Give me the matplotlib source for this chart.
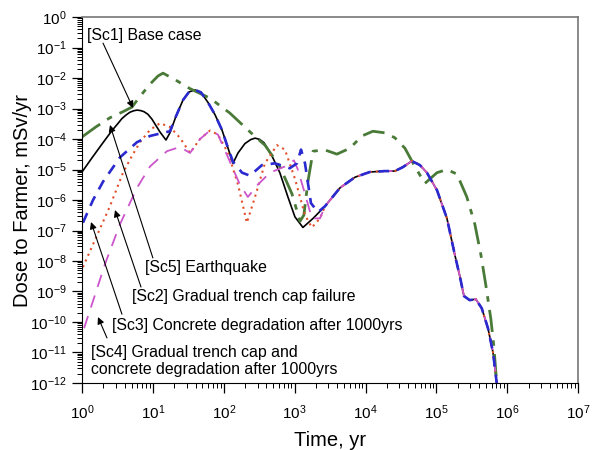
import numpy as np
import matplotlib
matplotlib.use("Agg")
from matplotlib import pyplot as plt
from matplotlib.ticker import LogLocator, NullFormatter

plt.rcParams['font.family'] = ['Liberation Sans', 'DejaVu Sans']
plt.rcParams['mathtext.fontset'] = 'custom'
plt.rcParams['mathtext.rm'] = 'Liberation Sans'
plt.rcParams['mathtext.it'] = 'Liberation Sans:italic'

# shared late-time tail (Sc1-Sc4 coincide after ~2500 yr)
tail_t = [2690, 4360, 7100, 11500, 18700, 26000, 33700, 45100, 58500, 73500,
          102000, 141000, 182000, 214000, 245000, 295000, 361000, 437000,
          534000, 630000, 710000]
tail_d = [6.3e-7, 2.5e-6, 5.6e-6, 8.3e-6, 8.9e-6, 8.9e-6, 1.2e-5, 1.9e-5, 1.4e-5, 7.9e-6,
          2.1e-6, 2.5e-7, 1.6e-8, 3.2e-9, 7.1e-10, 5.2e-10, 5.6e-10, 2.8e-10,
          6.3e-11, 1e-11, 1e-12]

# [Sc1] Base case
sc1_t = [1, 1.38, 1.91, 2.65, 3.2, 3.66, 4.2, 4.75, 5.4, 5.97, 6.7, 7.49, 8.5, 9.7,
         12.6, 15.3, 17.4, 21.2, 26.6, 32.3, 39.3, 47.7, 59.8, 75.2, 94.3, 115, 135,
         159, 199, 240, 276, 320, 369, 479, 618, 804, 1010, 1310, 1820] + tail_t
sc1_d = [8.3e-6, 2.4e-5, 6.8e-5, 1.9e-4, 3.2e-4, 4.7e-4, 6.2e-4, 7.6e-4, 8.5e-4,
         8.9e-4, 8.6e-4, 7.9e-4, 6.5e-4, 4.5e-4, 1.7e-4, 9.3e-5, 1.6e-4, 5.6e-4,
         1.9e-3, 3.5e-3, 4.1e-3, 3.4e-3, 1.6e-3, 6.3e-4, 2.0e-4, 5.0e-5, 1.6e-5,
         3.5e-5, 7.1e-5, 9.6e-5, 1.07e-4, 9.8e-5, 7.6e-5, 2.8e-5, 7.9e-6, 1.26e-6,
         2.8e-7, 1.26e-7, 2.5e-7] + tail_d

# [Sc5] Earthquake
sc5_t = [1, 1.57, 2.48, 3.79, 5.07, 6.58, 9.1, 11.8, 13.9, 20.5, 33.4, 63.8, 122,
         258, 381, 618, 916, 1190, 1350, 1540, 1820, 2670, 3950, 6030, 8890,
         12700, 18800, 26000, 36000, 49700, 68800, 102000, 141000, 195000,
         269000, 349000, 425000, 499000, 587000, 647000, 710000]
sc5_d = [1.17e-4, 2.5e-4, 5.0e-4, 7.9e-4, 1.12e-3, 2.5e-3, 6.3e-3, 1.17e-2, 1.45e-2,
         8.9e-3, 4.5e-3, 2.2e-3, 7.1e-4, 1.4e-4, 6.3e-5, 1.26e-5, 1.6e-6, 2.0e-7,
         3.2e-7, 4.0e-6, 4.0e-5, 4.4e-5, 3.2e-5, 5.0e-5, 1.26e-4, 1.8e-4, 1.6e-4,
         1.1e-4, 5.0e-5, 1.26e-5, 3.5e-6, 7.9e-6, 1.0e-5, 7.1e-6, 1.26e-6, 1.6e-7,
         1.6e-8, 1.6e-9, 1.26e-10, 1.6e-11, 1e-12]

# [Sc2] Gradual trench cap failure
sc2_t = [1.03, 1.53, 2.48, 3.79, 5.07, 6.58, 9.1, 12.6, 17.4, 24.1, 33.4, 46.2,
         63.8, 82.8, 115, 159, 212, 276, 381, 563, 730, 1010, 1400, 1750, 2280] + tail_t
sc2_d = [6.3e-9, 5.0e-8, 6.3e-7, 7.9e-6, 2.8e-5, 7.9e-5, 2.0e-4, 3.3e-4, 2.5e-4,
         1.1e-4, 3.5e-5, 1.0e-4, 1.9e-4, 1.4e-4, 3.5e-5, 3.2e-6, 1.8e-7, 1.26e-6,
         1.6e-5, 6.3e-5, 4.5e-5, 5.0e-6, 3.2e-7, 1.26e-7, 2.5e-7] + tail_d

# [Sc3] Concrete degradation after 1000yrs
sc3_t = [1.03, 1.43, 1.98, 3.43, 5.97, 9.1, 13.9, 17.4, 21.2, 26.6, 32.3, 39.3,
         47.7, 59.8, 75.2, 94.3, 115, 135, 181, 234, 346, 527, 854, 1080, 1230,
         1400, 1700, 2140] + tail_t
sc3_d = [1.8e-7, 1.0e-6, 4.0e-6, 2.5e-5, 7.9e-5, 1.26e-4, 1.6e-4, 1.8e-4, 5.6e-4,
         1.9e-3, 3.5e-3, 4.1e-3, 3.4e-3, 1.6e-3, 6.3e-4, 2.0e-4, 5.0e-5, 1.8e-5,
         7.9e-6, 6.3e-6, 1.4e-5, 1.6e-5, 1.1e-5, 1.6e-5, 4.5e-5, 1.6e-5, 7.9e-7,
         4.0e-7] + tail_d

# [Sc4] Gradual trench cap and concrete degradation after 1000yrs
sc4_t = [1.07, 1.53, 2.11, 3.43, 5.97, 9.1, 15.8, 24.1, 33.4, 46.2, 63.8, 82.8,
         115, 169, 219, 303, 449, 730, 977, 1110, 1400, 1750, 2280] + tail_t
sc4_d = [6.3e-11, 7.9e-10, 7.9e-9, 1.6e-7, 2.5e-6, 1.26e-5, 4.0e-5, 5.5e-5, 3.5e-5,
         1.0e-4, 1.9e-4, 1.4e-4, 2.5e-5, 3.2e-6, 1.26e-6, 3.2e-6, 7.9e-6, 1.26e-5,
         2.0e-5, 1.0e-5, 1.6e-6, 2.5e-7, 2.5e-7] + tail_d

x_ticks = [1e0, 1e1, 1e2, 1e3, 1e4, 1e5, 1e6, 1e7]
y_ticks = [1e-12, 1e-11, 1e-10, 1e-9, 1e-8, 1e-7, 1e-6, 1e-5, 1e-4, 1e-3, 1e-2, 1e-1, 1e0]

fig = plt.figure(figsize=(5.96, 4.5), dpi=100)
ax = fig.add_axes([0.1376, 0.149, 0.8324, 0.813])

ax.plot(sc1_t, sc1_d, color='black', lw=1.2)
ax.plot(sc5_t, sc5_d, color='#4a7a38', lw=2.0, dashes=(8, 3, 2, 3))
ax.plot(sc2_t, sc2_d, color='#e0502a', lw=1.5, dashes=(1, 2))
ax.plot(sc4_t, sc4_d, color='#cc55cc', lw=1.3, dashes=(7, 5))
ax.plot(sc3_t, sc3_d, color='#2a2ad0', lw=1.9, dashes=(4, 3))

ax.set_xscale('log')
ax.set_yscale('log')
ax.set_xticks(x_ticks)
ax.set_yticks(y_ticks)
ax.set_xlim(1, 1e7)
ax.set_ylim(1e-12, 1)

ax.xaxis.set_minor_locator(LogLocator(base=10, subs=np.arange(2, 10), numticks=100))
ax.yaxis.set_minor_locator(LogLocator(base=10, subs=np.arange(2, 10), numticks=100))
ax.xaxis.set_minor_formatter(NullFormatter())
ax.yaxis.set_minor_formatter(NullFormatter())
ax.tick_params(which='major', direction='out', length=7, width=0.9, labelsize=11, pad=4)
ax.tick_params(which='minor', direction='out', length=3.5, width=0.7)
ax.tick_params(axis='x', which='major', pad=8)

for s in ['top', 'right']:
    ax.spines[s].set_color('#777777')
    ax.spines[s].set_linewidth(1.2)

ax.set_xlabel('Time, yr', fontsize=14.5, labelpad=6)
ax.set_ylabel('Dose to Farmer, mSv/yr', fontsize=14.5)
ax.yaxis.set_label_coords(-0.1, 0.5)

# scenario labels with arrows
fs = 11.4
arrow = dict(arrowstyle='-|>', color='black', lw=0.8, shrinkA=0, shrinkB=0)
ax.text(1.18, 0.24, '[Sc1] Base case', fontsize=fs, va='center')
ax.annotate('', xy=(5.24, 1.05e-3), xytext=(1.98, 0.14), arrowprops=arrow)
ax.text(7.7, 6.3e-9, '[Sc5] Earthquake', fontsize=fs, va='center')
ax.annotate('', xy=(2.48, 2.9e-4), xytext=(10.0, 1.26e-8), arrowprops=arrow)
ax.text(5.07, 6.6e-10, '[Sc2] Gradual trench cap failure', fontsize=fs, va='center')
ax.annotate('', xy=(2.92, 4.7e-7), xytext=(6.8, 1.4e-9), arrowprops=arrow)
ax.text(2.65, 7.4e-11, '[Sc3] Concrete degradation after 1000yrs', fontsize=fs, va='center')
ax.annotate('', xy=(1.34, 1.9e-7), xytext=(3.66, 1.8e-10), arrowprops=arrow)
ax.text(1.34, 5.2e-12, '[Sc4] Gradual trench cap and\nconcrete degradation after 1000yrs',
        fontsize=fs, va='center', linespacing=1.15)
ax.annotate('', xy=(1.68, 1.45e-10), xytext=(2.25, 3.0e-11), arrowprops=arrow)

fig.savefig('out.png', dpi=100)
